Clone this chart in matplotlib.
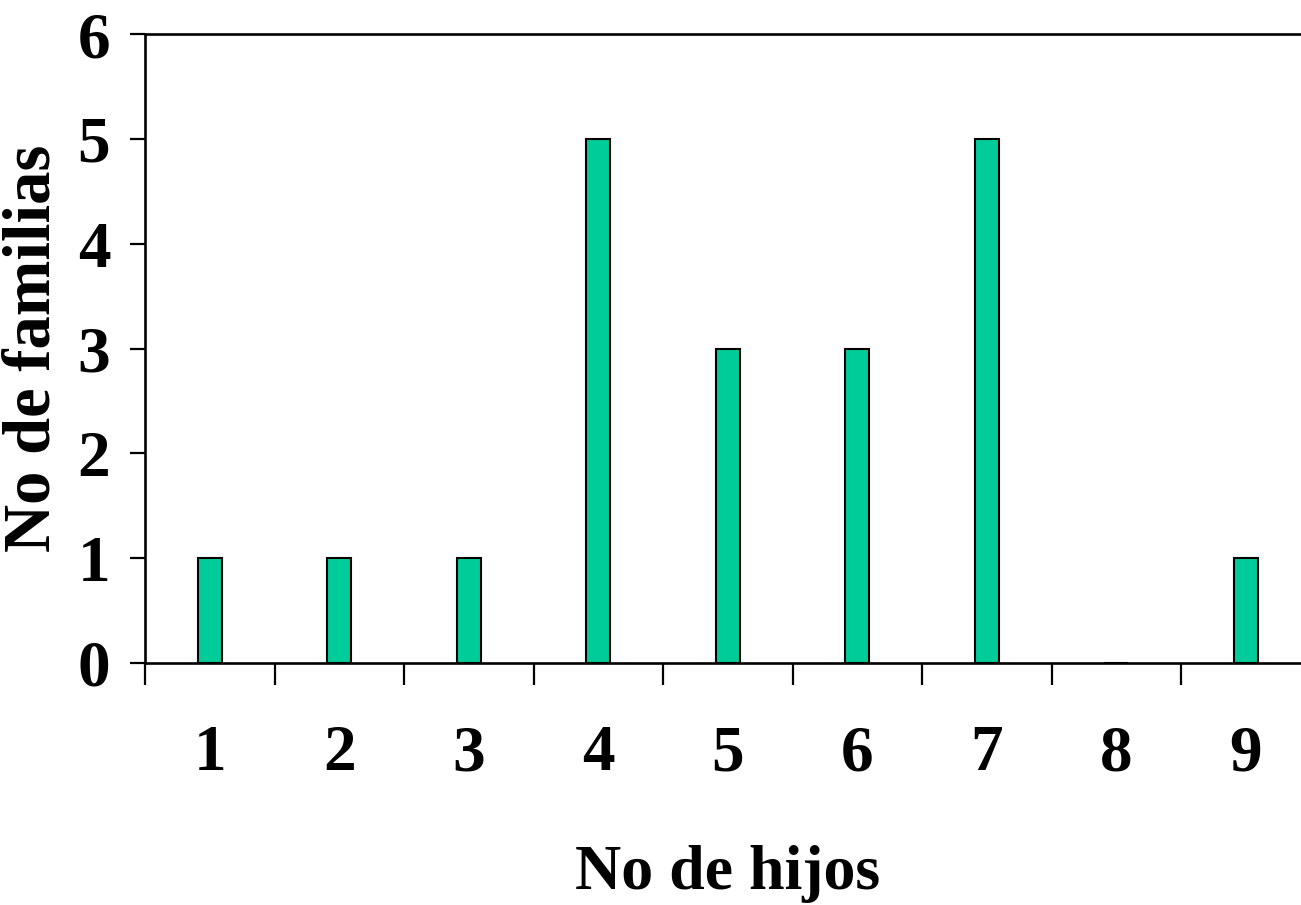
"""Distribución de familias según número de hijos (estilo Excel)."""

import matplotlib

matplotlib.use("Agg")
import matplotlib.pyplot as plt  # noqa: E402

hijos = [1, 2, 3, 4, 5, 6, 7, 8, 9]
familias = [1, 1, 1, 5, 3, 3, 5, 0, 1]
yticks = [0, 1, 2, 3, 4, 5, 6]

BAR = "#00cc99"
FONT = "Liberation Serif"

plt.rcParams["font.family"] = FONT
plt.rcParams["font.weight"] = "bold"

W, H = 1301, 905
fig = plt.figure(figsize=(W / 100, H / 100), dpi=100)
fig.patch.set_facecolor("white")

# área de trazado: eje x en y=663 px, valor 6 en y=34 px; se sale por la derecha
ax = fig.add_axes([145 / W, (H - 663) / H, (1310.5 - 145) / W, (663 - 34) / H])

ax.bar(hijos, familias, width=0.185, color=BAR, edgecolor="black", linewidth=1.5, zorder=3)

ax.set_xlim(0.5, 9.5)
ax.set_ylim(0, 6)

ax.spines["right"].set_visible(False)
for side in ("left", "bottom", "top"):
    ax.spines[side].set_linewidth(1.9)

# ticks mayores en los límites de categoría, etiquetas en ticks menores
ax.set_xticks([h - 0.5 for h in hijos] + [hijos[-1] + 0.5])
ax.set_xticklabels([])
ax.set_xticks(hijos, minor=True)
ax.set_xticklabels([str(h) for h in hijos], minor=True)
ax.tick_params(axis="x", which="major", direction="out", length=16, width=1.6)
ax.tick_params(axis="x", which="minor", length=0, pad=44, labelsize=47)

ax.set_yticks(yticks)
ax.set_yticklabels([str(v) for v in yticks])
ax.tick_params(axis="y", direction="out", length=11, width=1.6, pad=14, labelsize=47)

ax.set_xlabel("No de hijos", fontsize=46, fontweight="bold", labelpad=44)
ax.set_ylabel("No de familias", fontsize=48, fontweight="bold", labelpad=10)

fig.savefig("out.png", dpi=100, facecolor="white")
plt.close(fig)
